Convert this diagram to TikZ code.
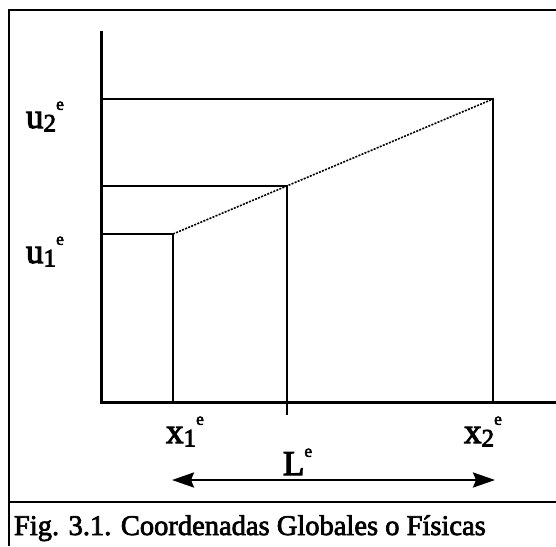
\documentclass[tikz,border=0pt]{standalone}
\usepackage{fontspec}
\setmainfont{Liberation Serif}
\newfontfamily\scanfont{Liberation Serif}[FakeBold=3]
\newfontfamily\capfont{Liberation Serif}[FakeBold=2.5]
\usepackage{graphicx}
\usetikzlibrary{positioning,arrows.meta,calc}

% labels with subscript and the small superscript e
\newcommand{\sublab}[2]{#1\raisebox{-0.1em}{\scalebox{0.72}{#2}}\raisebox{0.52em}{\scalebox{0.5}{e}}}
\newcommand{\suplab}[1]{#1\raisebox{0.52em}{\scalebox{0.5}{e}}}

\tikzset{
  axis/.style={line width=3pt},
  level/.style={line width=2.8pt},
  interp/.style={line width=1.6pt,dash pattern=on 2pt off 1.3pt},
  lbl/.style={inner sep=0pt,outer sep=0pt,anchor=base west,font=\scanfont\fontsize{35}{38}\selectfont},
  caption/.style={inner sep=0pt,outer sep=0pt,anchor=base west,font=\capfont\fontsize{28.5}{30}\selectfont}
}

\begin{document}
\begin{tikzpicture}[x=1pt,y=-1pt]
  \useasboundingbox (0,0) rectangle (556,546);
  % frame and caption box
  \coordinate (tl) at (8,10);
  \coordinate (tr) at (556,10);
  \coordinate (bl) at (9,546);
  \coordinate (sl) at (9,502);
  \coordinate (sr) at (556,502);
  \draw[line width=2.8pt] (tl) -- (tr);
  \draw[line width=2.8pt] (9,10) -- (bl);
  \draw[line width=2.6pt] (sl) -- (sr);

  % axes
  \coordinate (O) at (101,402);
  \coordinate (ytop) at (101,31);
  \coordinate (xend) at (556,402);
  \draw[axis] (ytop) -- (O) -- (xend);

  % nodal values and the straight line between them
  \coordinate (P1) at (173,234);
  \coordinate (P2) at (493,99);
  \coordinate (Pm) at ($(P1)!0.356!(P2)$);
  \draw[level] (O |- P2) -- (P2) -- (P2 |- O);
  \draw[level] (O |- P1) -- (P1) -- (P1 |- O);
  \draw[level] (O |- Pm) -- (Pm) -- (Pm |- 0,415);
  \draw[interp] (P1) -- (P2);

  % labels
  \node[lbl] (u2) at (26,128) {\sublab{u}{2}};
  \node[lbl] (u1) at (26,263) {\sublab{u}{1}};
  \node[lbl] (x1) at (166,443) {\sublab{x}{1}};
  \node[lbl] (x2) at (464,443) {\sublab{x}{2}};
  \node[lbl] (Le) at (283,475) {\suplab{L}};

  % length of the element
  \coordinate (aL) at (172,480);
  \coordinate (aR) at (495,480);
  \draw[line width=2.6pt,{Stealth[length=22pt,width=15pt,inset=3pt]}-{Stealth[length=22pt,width=15pt,inset=3pt]}] (aL) -- (aR);

  \node[caption] (cap) at (14,535) {Fig. 3.1. Coordenadas Globales o Físicas};
\end{tikzpicture}
\end{document}
